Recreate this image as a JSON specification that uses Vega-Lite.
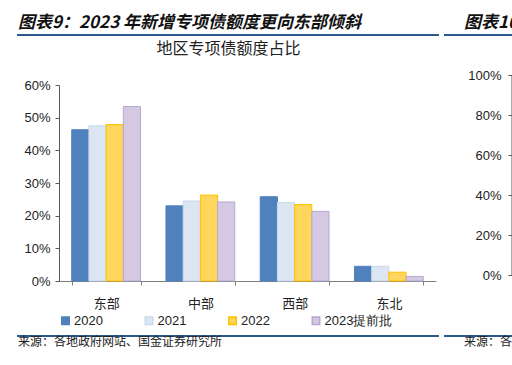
{
  "$schema": "https://vega.github.io/schema/vega-lite/v6.json",
  "padding": {"left": 16, "top": 14, "right": 0, "bottom": 0},
  "background": "white",
  "config": {
    "view": {"stroke": null},
    "font": "Noto Sans CJK SC",
    "title": {"font": "Noto Sans CJK SC", "color": "#111111"},
    "axis": {"labelFont": "Liberation Sans", "labelFontSize": 13, "labelColor": "#222222", "domainColor": "#595959", "tickColor": "#595959", "grid": false}
  },
  "spacing": 0,
  "resolve": {"scale": {"color": "independent", "stroke": "independent"}, "legend": {"color": "independent"}},
  "vconcat": [
    {
      "spacing": 3,
      "hconcat": [
        {
          "title": {"text": "图表9：2023 年新增专项债额度更向东部倾斜", "anchor": "start", "frame": "bounds", "fontSize": 17, "fontWeight": "bold", "fontStyle": "italic", "dx": 2, "offset": 2},
          "width": 380, "height": 6,
          "data": {"values": [{}]},
          "mark": {"type": "rule", "color": "#2B5A8A", "strokeWidth": 2},
          "encoding": {
            "x": {"datum": -0.1105, "type": "quantitative", "scale": {"domain": [0, 1]}, "axis": null},
            "x2": {"datum": 1},
            "y": {"datum": 1, "type": "quantitative", "scale": {"domain": [0, 1]}, "axis": null}
          }
        },
        {
          "title": {"text": "图表10", "anchor": "start", "fontSize": 17, "fontWeight": "bold", "fontStyle": "italic", "dx": 21, "offset": 2},
          "width": 71, "height": 6,
          "data": {"values": [{}]},
          "mark": {"type": "rule", "color": "#2B5A8A", "strokeWidth": 2},
          "encoding": {"y": {"datum": 1, "type": "quantitative", "scale": {"domain": [0, 1]}, "axis": null}}
        }
      ]
    },
    {
      "spacing": 6,
      "resolve": {"scale": {"color": "independent", "stroke": "independent"}, "legend": {"color": "independent"}},
      "hconcat": [
        {
          "title": {"text": "地区专项债额度占比", "fontSize": 16, "fontWeight": "normal", "anchor": "middle", "dx": -19, "offset": 22, "color": "#222222"},
          "width": 377, "height": 196,
          "data": {"values": [
            {"region": "东部", "year": "2020", "value": 0.463},
            {"region": "东部", "year": "2021", "value": 0.475},
            {"region": "东部", "year": "2022", "value": 0.479},
            {"region": "东部", "year": "2023提前批", "value": 0.534},
            {"region": "中部", "year": "2020", "value": 0.230},
            {"region": "中部", "year": "2021", "value": 0.245},
            {"region": "中部", "year": "2022", "value": 0.263},
            {"region": "中部", "year": "2023提前批", "value": 0.242},
            {"region": "西部", "year": "2020", "value": 0.258},
            {"region": "西部", "year": "2021", "value": 0.240},
            {"region": "西部", "year": "2022", "value": 0.234},
            {"region": "西部", "year": "2023提前批", "value": 0.213},
            {"region": "东北", "year": "2020", "value": 0.045},
            {"region": "东北", "year": "2021", "value": 0.045},
            {"region": "东北", "year": "2022", "value": 0.027},
            {"region": "东北", "year": "2023提前批", "value": 0.014}
          ]},
          "mark": {"type": "bar", "strokeWidth": 1},
          "encoding": {
            "x": {"field": "region", "type": "nominal", "sort": ["东部", "中部", "西部", "东北"],
                  "scale": {"paddingInner": 0.27, "paddingOuter": 0.135},
                  "axis": {"title": null, "labelAngle": 0, "labelFont": "Noto Sans CJK SC", "labelFontSize": 13, "tickBand": "extent", "tickSize": 4, "labelPadding": 12, "domainColor": "#7f7f7f", "tickColor": "#7f7f7f"}},
            "xOffset": {"field": "year", "type": "nominal", "sort": ["2020", "2021", "2022", "2023提前批"], "scale": {"paddingInner": 0}},
            "y": {"field": "value", "type": "quantitative", "scale": {"domain": [0, 0.6], "nice": false},
                  "axis": {"title": null, "values": [0, 0.1, 0.2, 0.3, 0.4, 0.5, 0.6], "format": ".0%", "tickSize": 4, "labelPadding": 5, "minExtent": 42}},
            "color": {"field": "year", "type": "nominal", "sort": ["2020", "2021", "2022", "2023提前批"],
                      "scale": {"domain": ["2020", "2021", "2022", "2023提前批"], "range": ["#4F81BD", "#DCE6F2", "#FFD65C", "#D4C8E3"]},
                      "legend": {"title": null, "orient": "bottom", "direction": "horizontal", "columns": 4, "columnPadding": 38.5, "symbolType": "square", "symbolSize": 56, "labelFont": "Liberation Sans", "labelFontSize": 13, "labelColor": "#222222", "labelOffset": 2, "offset": 4}},
            "stroke": {"field": "year", "type": "nominal",
                       "scale": {"domain": ["2020", "2021", "2022", "2023提前批"], "range": ["#4F81BD", "#C9D8EC", "#FFC000", "#B7A8D0"]},
                       "legend": null}
          }
        },
        {
          "width": 70, "height": 190,
          "data": {"values": [{}]},
          "mark": {"type": "rule", "color": "#595959", "strokeWidth": 1},
          "encoding": {
            "x": {"datum": 1, "type": "quantitative", "scale": {"domain": [0, 1]}, "axis": null},
            "y": {"datum": 0, "type": "quantitative", "scale": {"domain": [0, 1], "range": [190, -10], "nice": false},
                  "axis": {"title": null, "domain": false, "offset": -70, "values": [0, 0.2, 0.4, 0.6, 0.8, 1], "format": ".0%", "tickSize": 4, "labelPadding": 7}},
            "y2": {"datum": 1}
          }
        }
      ]
    },
    {
      "spacing": 3,
      "hconcat": [
        {
          "title": {"text": "来源：各地政府网站、国金证券研究所", "orient": "bottom", "anchor": "start", "frame": "bounds", "fontSize": 12, "fontWeight": "normal", "dx": 2, "offset": 0, "color": "#222222"},
          "width": 380, "height": 8,
          "data": {"values": [{}]},
          "mark": {"type": "rule", "color": "#2B5A8A", "strokeWidth": 2},
          "encoding": {
            "x": {"datum": -0.1105, "type": "quantitative", "scale": {"domain": [0, 1]}, "axis": null},
            "x2": {"datum": 1},
            "y": {"datum": 0, "type": "quantitative", "scale": {"domain": [0, 1]}, "axis": null}
          }
        },
        {
          "title": {"text": "来源：各", "orient": "bottom", "anchor": "start", "fontSize": 12, "fontWeight": "normal", "dx": 21, "offset": 0, "color": "#222222"},
          "width": 71, "height": 8,
          "data": {"values": [{}]},
          "mark": {"type": "rule", "color": "#2B5A8A", "strokeWidth": 2},
          "encoding": {"y": {"datum": 0, "type": "quantitative", "scale": {"domain": [0, 1]}, "axis": null}}
        }
      ]
    }
  ]
}
